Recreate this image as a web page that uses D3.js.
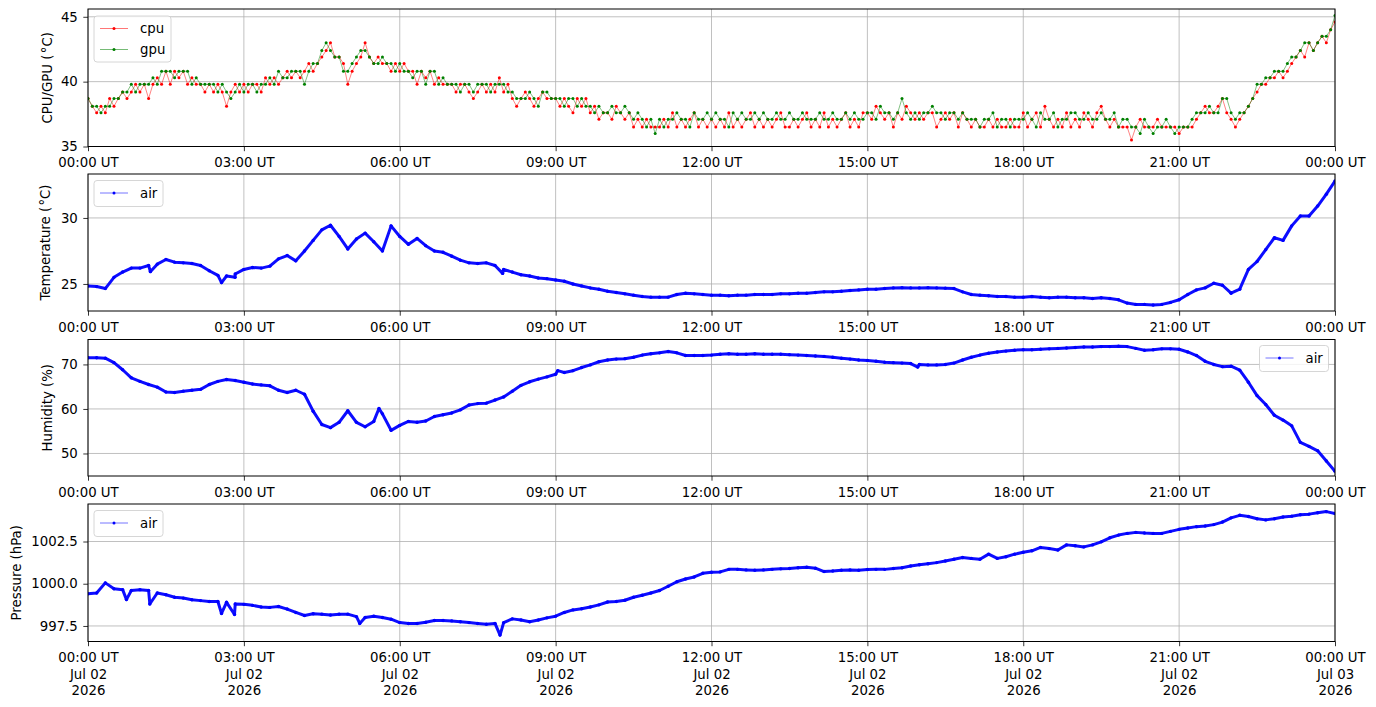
<!DOCTYPE html>
<html><head><meta charset="utf-8">
<script src="https://cdn.jsdelivr.net/npm/d3@7"></script>
<style>
body{margin:0;background:#fff;}
svg text{font-family:"DejaVu Sans",sans-serif;}
</style>
</head><body>
<svg id="chart" width="1376" height="707"></svg>
<script>
// ---------------- DATA ----------------
const startTime = "2026-07-02T00:00:00Z";
const endTime = "2026-07-03T00:00:00Z";
const socStepMinutes = 5;   // cpu / gpu sampling
const airStepMinutes = 10;  // air sensor sampling
const xTickHours = [0, 3, 6, 9, 12, 15, 18, 21, 24];

const cpu = [
38.7,38.1,37.6,38.1,37.6,38.7,38.1,38.7,39.2,38.7,39.2,39.8,
39.2,39.8,38.7,39.8,40.3,39.8,40.8,39.8,40.8,40.3,40.8,39.8,
40.3,39.8,39.8,39.2,39.8,39.2,39.8,39.2,38.1,39.2,39.8,39.2,
39.8,39.2,39.8,39.8,39.2,40.3,39.8,40.3,39.8,40.3,40.8,40.3,
40.8,40.3,40.8,41.4,40.8,41.4,41.9,42.4,43.0,41.9,41.9,41.4,
39.8,40.8,41.4,41.9,43.0,41.9,41.4,41.9,41.4,41.4,40.8,41.4,
40.8,41.4,40.8,40.8,39.8,40.8,40.3,40.8,39.8,40.3,39.8,39.8,
39.8,39.2,39.8,39.8,39.2,38.7,39.2,39.8,39.2,39.8,39.2,40.3,
39.2,39.8,38.7,38.1,38.7,39.2,38.7,38.1,38.7,39.2,38.7,38.7,
38.7,38.1,38.7,38.1,37.6,38.7,38.1,38.7,37.6,38.1,37.1,37.6,
37.6,37.1,38.1,37.6,37.1,37.6,36.5,37.1,36.5,37.1,36.5,36.5,
36.5,37.1,36.5,37.6,36.5,37.1,36.5,37.1,37.6,36.5,37.1,36.5,
37.1,36.5,37.1,36.5,37.6,36.5,37.1,36.5,37.1,37.6,36.5,37.1,
36.5,37.1,36.5,37.1,37.6,36.5,36.5,37.1,36.5,37.1,37.6,36.5,
37.1,36.5,37.6,36.5,37.1,36.5,37.1,37.6,36.5,37.1,36.5,37.6,
37.6,37.1,38.1,37.6,37.1,37.6,36.5,37.6,37.1,38.1,37.6,37.1,
37.6,37.1,37.6,37.6,36.5,37.1,37.6,37.1,37.6,36.5,37.6,37.1,
36.5,37.1,36.5,36.5,37.1,36.5,37.1,36.5,36.5,37.1,36.5,36.5,
37.6,36.5,37.1,37.6,36.5,38.1,37.1,36.5,37.1,36.5,37.6,36.5,
37.1,36.5,37.6,37.1,36.5,37.6,38.1,37.1,36.5,37.1,36.5,36.5,
36.5,35.5,36.5,37.1,36.5,36.5,36.5,37.1,36.5,36.5,36.5,36.5,
36.0,36.5,36.5,36.5,37.1,37.6,38.1,37.6,37.6,38.1,38.7,37.6,
37.1,36.5,37.1,37.6,38.1,38.7,39.2,39.8,39.8,40.3,40.3,40.8,
40.3,40.8,41.4,41.9,42.4,41.9,43.0,42.4,43.0,43.5,43.0,44.0,
44.6];

const gpu = [
38.7,38.1,38.1,37.6,38.1,38.1,38.7,38.7,39.2,39.2,39.8,39.2,
39.8,39.8,39.8,40.3,39.8,40.8,40.8,40.8,40.3,40.8,40.8,40.8,
39.8,40.3,39.8,39.8,39.8,39.8,39.2,39.8,39.2,38.7,39.2,39.8,
39.2,39.8,39.8,39.2,39.8,39.8,40.3,39.8,40.8,40.3,40.3,40.8,
40.8,40.8,39.8,40.8,41.4,41.4,42.4,43.0,42.4,41.9,41.9,40.8,
40.8,41.4,41.9,42.4,42.4,41.9,41.4,41.4,41.9,41.4,41.4,40.8,
41.4,40.8,40.8,40.3,40.8,40.8,39.8,40.8,40.8,39.8,40.3,39.8,
39.8,39.8,39.2,39.8,39.8,39.2,39.8,39.8,39.8,39.2,39.8,39.8,
39.8,39.2,39.2,38.7,38.7,38.7,39.2,38.7,38.1,39.2,39.2,38.7,
38.7,38.7,38.1,38.7,38.7,38.1,38.7,38.1,38.1,37.6,38.1,37.6,
37.6,38.1,37.6,37.6,38.1,37.6,37.1,37.6,37.1,36.5,37.1,36.0,
37.1,36.5,37.1,37.1,37.6,37.1,37.1,36.5,37.6,37.1,37.1,37.6,
37.1,37.6,37.1,37.1,36.5,37.6,37.1,37.6,37.1,37.1,37.6,37.1,
37.6,37.1,37.1,37.6,37.1,37.1,37.6,37.1,37.1,37.6,37.1,37.1,
37.1,37.6,37.1,37.1,37.6,37.1,37.1,37.6,37.1,37.6,37.1,37.1,
37.6,37.6,37.1,38.1,37.6,37.6,37.1,37.6,38.7,37.6,37.1,37.6,
37.1,37.6,37.6,38.1,37.6,37.6,37.1,37.6,37.6,37.1,37.6,37.1,
37.1,37.1,36.5,37.1,37.1,37.6,36.5,37.1,37.1,36.5,37.1,37.1,
37.1,37.6,37.1,36.5,37.6,37.1,37.1,37.6,36.5,37.1,37.1,37.6,
37.6,37.1,37.1,37.6,37.1,37.1,37.6,37.1,37.1,37.6,36.5,37.1,
37.1,36.5,36.5,36.0,37.1,36.5,36.0,36.5,36.5,37.1,36.5,36.0,
36.5,36.5,36.5,37.1,37.6,37.6,37.6,38.1,37.6,37.6,38.7,38.7,
37.6,37.1,37.6,37.6,38.1,38.7,39.8,39.8,40.3,40.3,40.8,40.8,
40.8,41.4,41.9,41.9,42.4,43.0,43.0,42.4,43.0,43.5,43.5,44.0,
45.1];

const airTemperature = [
24.85,24.8,24.65,25.5,25.9,26.2,
26.2,26.4,26.5,26.85,26.65,26.6,
26.55,26.4,26.0,25.65,25.6,25.75,
26.1,26.25,26.2,26.35,26.9,27.15,
26.75,27.5,28.3,29.1,29.45,28.6,
27.65,28.4,28.85,28.2,27.5,29.4,
28.6,28.0,28.45,27.9,27.5,27.4,
27.1,26.8,26.6,26.55,26.6,26.4,
26.1,25.9,25.7,25.6,25.45,25.4,
25.3,25.2,25.0,24.85,24.7,24.6,
24.45,24.35,24.25,24.15,24.05,24.0,
24.0,24.0,24.2,24.3,24.25,24.2,
24.15,24.15,24.1,24.15,24.15,24.2,
24.2,24.2,24.25,24.25,24.3,24.3,
24.35,24.4,24.4,24.45,24.5,24.55,
24.6,24.6,24.65,24.7,24.72,24.7,
24.7,24.72,24.7,24.68,24.65,24.4,
24.2,24.15,24.1,24.05,24.05,24.0,
24.0,24.05,24.0,23.95,24.0,24.0,
23.95,23.95,23.9,23.95,23.9,23.8,
23.55,23.45,23.45,23.4,23.45,23.6,
23.8,24.2,24.55,24.7,25.05,24.9,
24.3,24.6,26.1,26.7,27.6,28.5,
28.3,29.4,30.15,30.15,30.9,31.8,
32.8];

const airHumidity = [
71.5,71.5,71.4,70.4,68.8,67.0,
66.2,65.5,64.9,63.8,63.7,64.0,
64.2,64.4,65.5,66.2,66.6,66.4,
66.0,65.6,65.4,65.2,64.2,63.7,
64.2,63.3,59.5,56.5,55.8,57.0,
59.6,57.0,56.0,57.2,58.9,55.2,
56.3,57.2,57.0,57.3,58.3,58.7,
59.1,59.8,60.9,61.2,61.3,62.0,
62.7,64.0,65.3,66.1,66.7,67.2,
67.8,68.2,68.6,69.3,69.9,70.6,
71.0,71.2,71.3,71.6,72.1,72.4,
72.6,72.9,72.6,72.0,72.0,72.0,
72.1,72.3,72.4,72.3,72.3,72.4,
72.3,72.3,72.3,72.2,72.1,72.0,
71.9,71.8,71.6,71.4,71.2,71.0,
70.9,70.7,70.5,70.4,70.3,70.2,
70.0,69.9,69.9,70.0,70.3,71.0,
71.6,72.1,72.5,72.8,73.0,73.2,
73.3,73.3,73.4,73.5,73.6,73.7,
73.8,73.9,73.9,74.0,74.0,74.1,
74.0,73.6,73.2,73.3,73.5,73.5,
73.4,72.8,72.0,70.7,70.0,69.5,
69.6,68.7,66.0,63.0,61.0,58.6,
57.5,56.2,52.5,51.6,50.6,48.3,
46.0];

const airPressure = [
999.4,999.45,1000.05,999.7,999.65,999.6,
999.65,999.6,999.45,999.35,999.2,999.15,
999.05,999.0,998.95,998.95,998.9,998.8,
998.78,998.72,998.62,998.6,998.65,998.5,
998.3,998.12,998.22,998.2,998.15,998.2,
998.2,998.05,998.0,998.08,998.0,997.9,
997.7,997.65,997.65,997.72,997.82,997.82,
997.8,997.75,997.7,997.65,997.6,997.65,
997.7,997.92,997.85,997.75,997.85,997.98,
998.08,998.3,998.45,998.52,998.62,998.75,
998.92,998.95,999.02,999.2,999.32,999.45,
999.6,999.85,1000.12,1000.28,1000.4,1000.62,
1000.68,1000.7,1000.85,1000.85,1000.82,1000.8,
1000.82,1000.85,1000.88,1000.9,1000.95,1000.98,
1000.92,1000.72,1000.75,1000.8,1000.82,1000.8,
1000.84,1000.85,1000.85,1000.9,1000.95,1001.05,
1001.12,1001.18,1001.25,1001.35,1001.45,1001.55,
1001.5,1001.45,1001.75,1001.5,1001.6,1001.75,
1001.86,1001.95,1002.15,1002.08,1002.0,1002.3,
1002.25,1002.18,1002.3,1002.48,1002.72,1002.88,
1002.98,1003.04,1003.0,1002.98,1002.98,1003.1,
1003.22,1003.3,1003.38,1003.42,1003.5,1003.65,
1003.9,1004.05,1003.98,1003.85,1003.78,1003.85,
1003.95,1004.0,1004.08,1004.12,1004.2,1004.27,
1004.16];

// isolated single readings (hour of day, value)
const temperatureSpikes = [[1.2,25.93],[2.57,25.1],[2.83,25.5],[7.98,25.8]];
const humiditySpikes = [[5.6,60.1],[9.04,68.6],[15.97,69.4]];
const pressureSpikes = [[0.74,999.06],[1.19,998.8],[2.57,998.24],[2.82,998.18],[5.23,997.65],[7.93,996.96]];

const cpuTicks = [35, 40, 45];
const tempTicks = [25, 30];
const humTicks = [50, 60, 70];
const presTicks = [997.5, 1000.0, 1002.5];

// ---------------- BUILD ----------------
const t0 = new Date(startTime).getTime();
const toSeries = (arr, step) => arr.map((v, i) => ({t: new Date(t0 + i * step * 60000), v}));
const withSpikes = (series, spikes) => series.concat(spikes.map(s => ({t: new Date(t0 + s[0] * 3600000), v: s[1]})))
  .sort((a, b) => a.t - b.t);

const svg = d3.select("#chart");
const L = 88, R = 1335;
const x = d3.scaleUtc().domain([new Date(startTime), new Date(endTime)]).range([L, R]);
const xTicks = xTickHours.map(h => new Date(t0 + h * 3600000));
const FS = "13.3px";

const panels = [
  {top: 9, bottom: 146.5, domain: [35, 45.6], ticks: cpuTicks, fmt: d3.format("d"), label: "CPU/GPU (\u200A\u00B0C)", labelX: 47,
   series: [{data: toSeries(cpu, socStepMinutes), color: "#ff0000", name: "cpu"},
            {data: toSeries(gpu, socStepMinutes), color: "#008000", name: "gpu"}],
   thin: true, legend: {x: 94, y: 16, w: 77, h: 46}},
  {top: 174, bottom: 311, domain: [22.95, 33.33], ticks: tempTicks, fmt: d3.format("d"), label: "Temperature (\u200A\u00B0C)", labelX: 45,
   series: [{data: withSpikes(toSeries(airTemperature, airStepMinutes), temperatureSpikes), color: "#0000ff", name: "air"}],
   legend: {x: 94, y: 180.5, w: 69, h: 26}},
  {top: 339.5, bottom: 476, domain: [44.94, 75.6], ticks: humTicks, fmt: d3.format("d"), label: "Humidity (%)", labelX: 47,
   series: [{data: withSpikes(toSeries(airHumidity, airStepMinutes), humiditySpikes), color: "#0000ff", name: "air"}],
   legend: {x: 1259.5, y: 345.5, w: 69, h: 26}},
  {top: 504, bottom: 641.5, domain: [996.58, 1004.72], ticks: presTicks, fmt: d3.format(".1f"), label: "Pressure (hPa)", labelX: 16,
   series: [{data: withSpikes(toSeries(airPressure, airStepMinutes), pressureSpikes), color: "#0000ff", name: "air"}],
   legend: {x: 94, y: 510.5, w: 69, h: 26}, bottomAxis: true}
];

panels.forEach((p, pi) => {
  const y = d3.scaleLinear().domain(p.domain).range([p.bottom, p.top]);
  const g = svg.append("g");
  const clipId = "clip" + pi;
  svg.append("clipPath").attr("id", clipId).append("rect")
    .attr("x", L).attr("y", p.top).attr("width", R - L).attr("height", p.bottom - p.top);

  // grid
  g.append("g").selectAll("line.vx").data(xTicks).join("line")
    .attr("x1", d => x(d)).attr("x2", d => x(d)).attr("y1", p.top).attr("y2", p.bottom)
    .attr("stroke", "#b0b0b0").attr("stroke-width", 0.8);
  g.append("g").selectAll("line.hy").data(p.ticks).join("line")
    .attr("x1", L).attr("x2", R).attr("y1", d => y(d)).attr("y2", d => y(d))
    .attr("stroke", "#b0b0b0").attr("stroke-width", 0.8);

  // series
  const plot = g.append("g").attr("clip-path", `url(#${clipId})`);
  const line = d3.line().x(d => x(d.t)).y(d => y(d.v));
  p.series.forEach(s => {
    plot.append("path").datum(s.data).attr("d", line)
      .attr("fill", "none").attr("stroke", s.color)
      .attr("stroke-width", p.thin ? 0.9 : 3)
      .attr("stroke-opacity", p.thin ? 0.55 : 0.95)
      .attr("stroke-linejoin", "round");
    plot.append("g").selectAll("circle").data(s.data).join("circle")
      .attr("cx", d => x(d.t)).attr("cy", d => y(d.v))
      .attr("r", p.thin ? 1.5 : 1.7).attr("fill", s.color);
  });

  // frame
  g.append("rect").attr("x", L).attr("y", p.top).attr("width", R - L).attr("height", p.bottom - p.top)
    .attr("fill", "none").attr("stroke", "#000").attr("stroke-width", 1);

  // axes
  const xa = g.append("g").attr("transform", `translate(0,${p.bottom})`)
    .call(d3.axisBottom(x).tickValues(xTicks).tickSize(4.7).tickPadding(6.5)
      .tickFormat(d3.utcFormat("%H:%M UT")));
  xa.select(".domain").remove();
  xa.selectAll("text").attr("font-size", FS).attr("font-family", "DejaVu Sans").attr("fill", "#000");
  xa.selectAll("line").attr("stroke", "#000").attr("stroke-width", 0.8);
  if (p.bottomAxis) {
    xa.selectAll(".tick text").each(function(d) {
      const t = d3.select(this);
      const lines = [d3.utcFormat("%H:%M UT")(d), d3.utcFormat("%b %d")(d), d3.utcFormat("%Y")(d)];
      t.text(null);
      lines.forEach((ln, k) => t.append("tspan").attr("x", 0).attr("dy", k === 0 ? "0.71em" : "1.25em").text(ln));
      t.attr("dy", null);
    });
  }
  const ya = g.append("g").attr("transform", `translate(${L},0)`)
    .call(d3.axisLeft(y).tickValues(p.ticks).tickSize(4.7).tickPadding(5.5).tickFormat(p.fmt));
  ya.select(".domain").remove();
  ya.selectAll("text").attr("font-size", FS).attr("font-family", "DejaVu Sans").attr("fill", "#000");
  ya.selectAll("line").attr("stroke", "#000").attr("stroke-width", 0.8);

  // y label
  g.append("text").attr("transform", `translate(${p.labelX},${(p.top + p.bottom) / 2}) rotate(-90)`)
    .attr("text-anchor", "middle").attr("dy", "0.35em").attr("font-size", FS).text(p.label);

  // legend
  const lg = g.append("g").attr("transform", `translate(${p.legend.x},${p.legend.y})`);
  lg.append("rect").attr("width", p.legend.w).attr("height", p.legend.h).attr("rx", 3)
    .attr("fill", "#fff").attr("fill-opacity", 0.8).attr("stroke", "#cccccc").attr("stroke-width", 0.8);
  p.series.forEach((s, k) => {
    const cy = 12.5 + k * 21;
    lg.append("line").attr("x1", 6).attr("x2", 34).attr("y1", cy).attr("y2", cy)
      .attr("stroke", s.color).attr("stroke-width", 0.9).attr("stroke-opacity", 0.6);
    lg.append("circle").attr("cx", 20).attr("cy", cy).attr("r", 1.5).attr("fill", s.color);
    lg.append("text").attr("x", 46).attr("y", cy).attr("dy", "0.35em").attr("font-size", FS).text(s.name);
  });
});
</script>
</body></html>
